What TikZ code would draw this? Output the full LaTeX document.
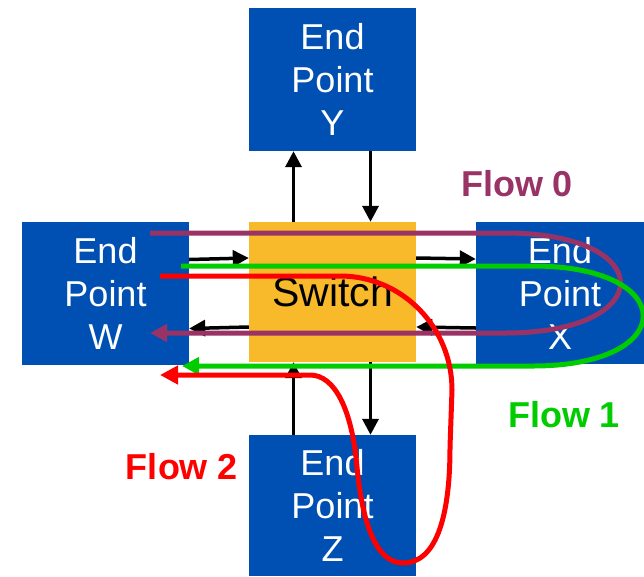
\documentclass[tikz,border=0pt]{standalone}
\usepackage{fontspec}
\setmainfont{Liberation Sans}
\usepackage{tikz}
\usetikzlibrary{positioning,arrows.meta,calc}
\definecolor{epblue}  {HTML}{0050B3}
\definecolor{swyellow}{HTML}{F8B92B}
\definecolor{plum}    {HTML}{993366}
\definecolor{leaf}    {HTML}{00CC00}
\definecolor{signal}  {HTML}{FF0000}
\tikzset{
  % --- nodes
  ept/.style   = {fill=epblue, text=white, align=center, inner sep=0pt,
                  minimum width=167pt, minimum height=143pt,
                  font=\fontsize{36}{43}\selectfont},
  swbox/.style = {ept, fill=swyellow, text=black, minimum height=140pt,
                  font=\fontsize{41}{48}\selectfont},
  flbl/.style  = {font=\fontsize{36}{42}\selectfont\bfseries, inner sep=0pt},
  % --- edges
  blk/.style   = {-{Triangle[length=16pt,width=16pt]}, line width=3.5pt, draw=black},
  flow/.style  = {-{Triangle[length=17pt,width=17pt]}, line width=5pt},
  f0/.style    = {flow, draw=plum},
  f1/.style    = {flow, draw=leaf},
  f2/.style    = {flow, draw=signal, -{Triangle[length=18pt,width=18pt]}},
}
\begin{document}
\begin{tikzpicture}[x=1pt,y=-1pt]
  \useasboundingbox (0,0) rectangle (644,576);
  \node[ept] (ept-y) at (332.5,79.5) {End\\Point\\Y};
  \node[ept] (ept-w) at (105.5,293.5) {End\\Point\\W};
  \node[ept, minimum width=168pt, minimum height=142pt] (ept-x) at (560,293) {End\\Point\\X};
  \node[ept, minimum height=141pt] (ept-z) at (332.5,505.5) {End\\Point\\Z};
  \node[swbox] (sw) at (332.5,292) {Switch};
  % links switch <-> end points
  \draw[blk] ([xshift=-39pt]sw.north) -- ([xshift=-39pt]ept-y.south);
  \draw[blk] ([xshift=38pt]ept-y.south) -- ([xshift=38pt]sw.north);
  \draw[blk] ([yshift=34pt]ept-w.east) -- ([yshift=34pt]sw.west);
  \draw[blk] ([yshift=-35pt]sw.west) -- ([yshift=-35pt]ept-w.east);
  \draw[blk] ([yshift=34pt]sw.east) -- ([yshift=34pt]ept-x.west);
  \draw[blk] ([yshift=-35pt]ept-x.west) -- ([yshift=-35pt]sw.east);
  \draw[blk] ([xshift=-39pt]ept-z.north) -- ([xshift=-39pt]sw.south);
  \draw[blk] ([xshift=38pt]sw.south) -- ([xshift=38pt]ept-z.north);
  % flows
  \coordinate (f0-in)  at (150,233);
  \coordinate (f0-out) at (150,333);
  \coordinate (f1-in)  at (181,266);
  \coordinate (f1-out) at (182,366);
  \coordinate (f2-in)  at (160,276);
  \coordinate (f2-out) at (160,375);
  \draw[f0] (f0-in) -- (505,233) .. controls (659,233) and (659,333) .. (505,333) -- (f0-out);
  \draw[f1] (f1-in) -- (533,266) .. controls (680,266) and (680,366) .. (533,366) -- (f1-out);
  \draw[f2] (f2-in) -- (340,276) .. controls (402,276) and (452,327) .. (452,390)
            -- (450,447) .. controls (450,520) and (435,563) .. (403,563)
            .. controls (375,563) and (362,520) .. (357,467)
            .. controls (352,410) and (335,375) .. (310,375) -- (f2-out);
  \node[flbl, text=plum]   (lbl-f0) at (517,184) {Flow 0};
  \node[flbl, text=leaf]   (lbl-f1) at (564,415) {Flow 1};
  \node[flbl, text=signal] (lbl-f2) at (182,467) {Flow 2};
\end{tikzpicture}
\end{document}
